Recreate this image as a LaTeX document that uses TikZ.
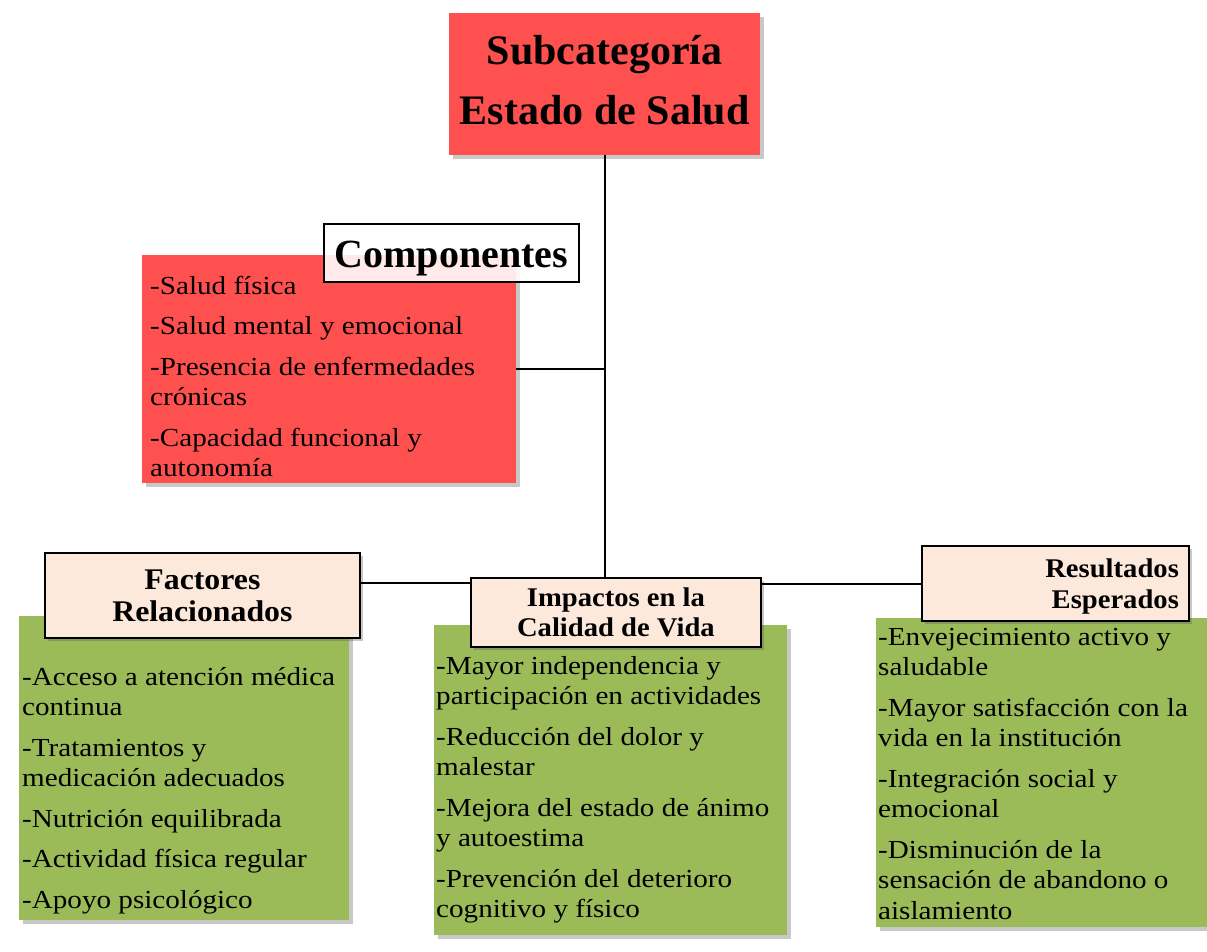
\documentclass[tikz,border=0pt]{standalone}
\usepackage{fontspec}
\setmainfont{Liberation Serif}
\newfontfamily\bodyfont[FakeStretch=1.12]{Liberation Serif}
\newfontfamily\headfont[FakeStretch=1.06]{Liberation Serif}
\usetikzlibrary{shadows}
\definecolor{boxred}{RGB}{255,80,80}
\definecolor{boxgreen}{RGB}{155,187,89}
\definecolor{peach}{RGB}{253,233,219}
\begin{document}
\begin{tikzpicture}[x=1pt,y=-1pt,
  shd/.style={drop shadow={shadow xshift=3.5pt,shadow yshift=-3.5pt,opacity=0.3,fill=black!70}},
  redbox/.style={fill=boxred, shd, inner sep=0, anchor=north west},
  greenbox/.style={fill=boxgreen, shd, inner sep=0, anchor=north west},
  headbox/.style={fill=peach, draw=black, line width=1.8pt, shd, anchor=north west, inner sep=0, align=center},
  bodytext/.style={anchor=base west, inner sep=0},
  conn/.style={draw=black, line width=2.2pt}
]
\useasboundingbox[fill=white] (0,0) rectangle (1207,952);

% title
\node[redbox, minimum width=311pt, minimum height=142pt, align=center, text depth=9pt,
      font=\fontsize{42}{60}\selectfont\bfseries] (title) at (449,13) {Subcategoría\\Estado de Salud};

% componentes
\node[redbox, minimum width=374pt, minimum height=228pt] (comp) at (142,255) {};
\node[bodytext] (comptext) at (150,294) {\parbox[t]{370pt}{\bodyfont\fontsize{26}{30.5}\selectfont\raggedright
-Salud física\\[10pt]
-Salud mental y emocional\\[10pt]
-Presencia de enfermedades\\
crónicas\\[10pt]
-Capacidad funcional y\\
autonomía}};
\node[draw=black, line width=1.6pt, fill=white, fill opacity=0.88, text opacity=1,
      minimum width=255pt, minimum height=58pt, anchor=north west, inner sep=0, text height=38pt,
      font=\fontsize{40}{44}\selectfont\bfseries] (comph) at (323,223) {Componentes};

% factores
\node[greenbox, minimum width=330pt, minimum height=304pt] (fact) at (19,616) {};
\node[bodytext] (facttext) at (22,685) {\parbox[t]{330pt}{\bodyfont\fontsize{26}{30.5}\selectfont\raggedright
-Acceso a atención médica\\
continua\\[10pt]
-Tratamientos y\\
medicación adecuados\\[10pt]
-Nutrición equilibrada\\[10pt]
-Actividad física regular\\[10pt]
-Apoyo psicológico}};
\node[headbox, minimum width=315pt, minimum height=85pt,
      font=\headfont\bfseries\fontsize{30}{32}\selectfont] (facth) at (44,552) {Factores\\Relacionados};

% impactos
\node[greenbox, minimum width=353pt, minimum height=310pt] (imp) at (434,625) {};
\node[bodytext] (imptext) at (436,674) {\parbox[t]{350pt}{\bodyfont\fontsize{26}{30.5}\selectfont\raggedright
-Mayor independencia y\\
participación en actividades\\[10pt]
-Reducción del dolor y\\
malestar\\[10pt]
-Mejora del estado de ánimo\\
y autoestima\\[10pt]
-Prevención del deterioro\\
cognitivo y físico}};
\node[headbox, minimum width=290pt, minimum height=69pt,
      font=\headfont\bfseries\fontsize{27}{30}\selectfont] (imph) at (470,577) {Impactos en la\\Calidad de Vida};

% resultados
\node[greenbox, minimum width=331pt, minimum height=309pt] (res) at (876,618) {};
\node[bodytext] (restext) at (878,645) {\parbox[t]{330pt}{\bodyfont\fontsize{26}{30.5}\selectfont\raggedright
-Envejecimiento activo y\\
saludable\\[10pt]
-Mayor satisfacción con la\\
vida en la institución\\[10pt]
-Integración social y\\
emocional\\[10pt]
-Disminución de la\\
sensación de abandono o\\
aislamiento}};
\node[headbox, align=right, text width=247pt, inner xsep=10pt, minimum height=75pt, text height=24pt,
      font=\headfont\bfseries\fontsize{27}{31}\selectfont] (resh) at (921,545) {Resultados\\Esperados};

% connectors
\draw[conn] (title.south) -- (title.south |- imph.north);
\draw[conn] (comp.east) -- (comp.east -| title.south);
\draw[conn] ([yshift=12.5pt]facth.east) -- ([yshift=12.5pt]facth.east -| imph.west);
\draw[conn] ([yshift=28.5pt]imph.east) -- ([yshift=28.5pt]imph.east -| resh.west);
\end{tikzpicture}
\end{document}
